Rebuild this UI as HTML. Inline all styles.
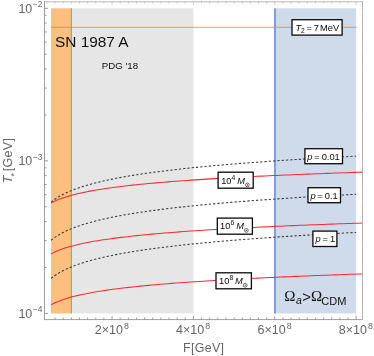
<!DOCTYPE html>
<html><head><meta charset="utf-8"><title>plot</title>
<style>html,body{margin:0;padding:0;background:#fff;}body{width:374px;height:356px;overflow:hidden;font-family:"Liberation Sans",sans-serif;}</style>
</head><body>
<svg width="374" height="356" viewBox="0 0 374 356" style="display:block;will-change:transform;font-family:'Liberation Sans',sans-serif">
<rect x="0" y="0" width="374" height="356" fill="#fff"/>
<rect x="51.04" y="8.3" width="20.34" height="305.10" fill="#ffbf7f"/>
<rect x="71.38" y="8.3" width="122.04" height="305.10" fill="#e6e6e6"/>
<rect x="274.78" y="8.3" width="81.36" height="305.10" fill="#cfdaea"/>
<line x1="71.38" x2="71.38" y1="8.3" y2="313.4" stroke="#b89f3a" stroke-width="1.1"/>
<line x1="274.98" x2="274.98" y1="8.3" y2="313.4" stroke="#6585c9" stroke-width="1.5"/>
<line x1="51.04" x2="356.54" y1="27.3" y2="27.3" stroke="#ff8000" stroke-width="0.9" stroke-opacity="0.88"/>
<path d="M51.04,202.95 L54.93,201.02 L58.83,199.37 L62.72,197.94 L66.61,196.68 L70.51,195.54 L74.40,194.51 L78.29,193.57 L82.19,192.70 L86.08,191.89 L89.97,191.14 L93.87,190.44 L97.76,189.78 L101.65,189.16 L105.55,188.57 L109.44,188.01 L113.33,187.48 L117.23,186.97 L121.12,186.48 L125.01,186.02 L128.91,185.57 L132.80,185.14 L136.69,184.73 L140.58,184.33 L144.48,183.94 L148.37,183.57 L152.26,183.21 L156.16,182.86 L160.05,182.53 L163.94,182.20 L167.84,181.88 L171.73,181.57 L175.62,181.27 L179.52,180.98 L183.41,180.69 L187.30,180.42 L191.20,180.14 L195.09,179.88 L198.98,179.62 L202.88,179.37 L206.77,179.12 L210.66,178.88 L214.56,178.64 L218.45,178.41 L222.34,178.19 L226.24,177.96 L230.13,177.75 L234.02,177.53 L237.92,177.32 L241.81,177.12 L245.70,176.92 L249.60,176.72 L253.49,176.52 L257.38,176.33 L261.28,176.14 L265.17,175.96 L269.06,175.78 L272.96,175.60 L276.85,175.42 L280.74,175.25 L284.63,175.08 L288.53,174.91 L292.42,174.74 L296.31,174.58 L300.21,174.42 L304.10,174.26 L307.99,174.11 L311.89,173.95 L315.78,173.80 L319.67,173.65 L323.57,173.50 L327.46,173.36 L331.35,173.21 L335.25,173.07 L339.14,172.93 L343.03,172.79 L346.93,172.66 L350.82,172.52 L354.71,172.39 L358.61,172.26 L362.50,172.13" fill="none" stroke="#f82c34" stroke-width="1.05"/>
<path d="M51.04,253.85 L54.93,251.92 L58.83,250.27 L62.72,248.84 L66.61,247.58 L70.51,246.44 L74.40,245.41 L78.29,244.47 L82.19,243.60 L86.08,242.79 L89.97,242.04 L93.87,241.34 L97.76,240.68 L101.65,240.06 L105.55,239.47 L109.44,238.91 L113.33,238.38 L117.23,237.87 L121.12,237.38 L125.01,236.92 L128.91,236.47 L132.80,236.04 L136.69,235.63 L140.58,235.23 L144.48,234.84 L148.37,234.47 L152.26,234.11 L156.16,233.76 L160.05,233.43 L163.94,233.10 L167.84,232.78 L171.73,232.47 L175.62,232.17 L179.52,231.88 L183.41,231.59 L187.30,231.32 L191.20,231.04 L195.09,230.78 L198.98,230.52 L202.88,230.27 L206.77,230.02 L210.66,229.78 L214.56,229.54 L218.45,229.31 L222.34,229.09 L226.24,228.86 L230.13,228.65 L234.02,228.43 L237.92,228.22 L241.81,228.02 L245.70,227.82 L249.60,227.62 L253.49,227.42 L257.38,227.23 L261.28,227.04 L265.17,226.86 L269.06,226.68 L272.96,226.50 L276.85,226.32 L280.74,226.15 L284.63,225.98 L288.53,225.81 L292.42,225.64 L296.31,225.48 L300.21,225.32 L304.10,225.16 L307.99,225.01 L311.89,224.85 L315.78,224.70 L319.67,224.55 L323.57,224.40 L327.46,224.26 L331.35,224.11 L335.25,223.97 L339.14,223.83 L343.03,223.69 L346.93,223.56 L350.82,223.42 L354.71,223.29 L358.61,223.16 L362.50,223.03" fill="none" stroke="#f82c34" stroke-width="1.05"/>
<path d="M51.04,304.75 L54.93,302.82 L58.83,301.17 L62.72,299.74 L66.61,298.48 L70.51,297.34 L74.40,296.31 L78.29,295.37 L82.19,294.50 L86.08,293.69 L89.97,292.94 L93.87,292.24 L97.76,291.58 L101.65,290.96 L105.55,290.37 L109.44,289.81 L113.33,289.28 L117.23,288.77 L121.12,288.28 L125.01,287.82 L128.91,287.37 L132.80,286.94 L136.69,286.53 L140.58,286.13 L144.48,285.74 L148.37,285.37 L152.26,285.01 L156.16,284.66 L160.05,284.33 L163.94,284.00 L167.84,283.68 L171.73,283.37 L175.62,283.07 L179.52,282.78 L183.41,282.49 L187.30,282.22 L191.20,281.94 L195.09,281.68 L198.98,281.42 L202.88,281.17 L206.77,280.92 L210.66,280.68 L214.56,280.44 L218.45,280.21 L222.34,279.99 L226.24,279.76 L230.13,279.55 L234.02,279.33 L237.92,279.12 L241.81,278.92 L245.70,278.72 L249.60,278.52 L253.49,278.32 L257.38,278.13 L261.28,277.94 L265.17,277.76 L269.06,277.58 L272.96,277.40 L276.85,277.22 L280.74,277.05 L284.63,276.88 L288.53,276.71 L292.42,276.54 L296.31,276.38 L300.21,276.22 L304.10,276.06 L307.99,275.91 L311.89,275.75 L315.78,275.60 L319.67,275.45 L323.57,275.30 L327.46,275.16 L331.35,275.01 L335.25,274.87 L339.14,274.73 L343.03,274.59 L346.93,274.46 L350.82,274.32 L354.71,274.19 L358.61,274.06 L362.50,273.93" fill="none" stroke="#f82c34" stroke-width="1.05"/>
<path d="M51.04,202.08 L54.85,199.23 L58.67,196.81 L62.48,194.69 L66.30,192.81 L70.11,191.13 L73.92,189.60 L77.74,188.20 L81.55,186.90 L85.36,185.71 L89.18,184.59 L92.99,183.54 L96.81,182.56 L100.62,181.63 L104.43,180.75 L108.25,179.91 L112.06,179.12 L115.87,178.36 L119.69,177.64 L123.50,176.94 L127.31,176.27 L131.13,175.63 L134.94,175.01 L138.76,174.42 L142.57,173.84 L146.38,173.29 L150.20,172.75 L154.01,172.23 L157.82,171.73 L161.64,171.24 L165.45,170.76 L169.27,170.30 L173.08,169.85 L176.89,169.41 L180.71,168.99 L184.52,168.57 L188.33,168.16 L192.15,167.77 L195.96,167.38 L199.78,167.00 L203.59,166.63 L207.40,166.27 L211.22,165.92 L215.03,165.57 L218.84,165.23 L222.66,164.90 L226.47,164.58 L230.29,164.26 L234.10,163.94 L237.91,163.64 L241.73,163.33 L245.54,163.04 L249.35,162.75 L253.17,162.46 L256.98,162.18 L260.80,161.90 L264.61,161.63 L268.42,161.36 L272.24,161.10 L276.05,160.84 L279.86,160.58 L283.68,160.33 L287.49,160.08 L291.31,159.84 L295.12,159.60 L298.93,159.36 L302.75,159.13 L306.56,158.90 L310.38,158.67 L314.19,158.44 L318.00,158.22 L321.82,158.00 L325.63,157.79 L329.44,157.58 L333.26,157.37 L337.07,157.16 L340.88,156.95 L344.70,156.75 L348.51,156.55 L352.33,156.35 L356.14,156.16" fill="none" stroke="#3a3a3a" stroke-width="1.05" stroke-dasharray="2.3 2.0"/>
<path d="M51.04,240.22 L54.85,237.37 L58.67,234.94 L62.48,232.83 L66.30,230.95 L70.11,229.26 L73.92,227.73 L77.74,226.33 L81.55,225.04 L85.36,223.84 L89.18,222.73 L92.99,221.68 L96.81,220.70 L100.62,219.77 L104.43,218.89 L108.25,218.05 L112.06,217.26 L115.87,216.50 L119.69,215.77 L123.50,215.08 L127.31,214.41 L131.13,213.77 L134.94,213.15 L138.76,212.56 L142.57,211.98 L146.38,211.43 L150.20,210.89 L154.01,210.37 L157.82,209.87 L161.64,209.38 L165.45,208.90 L169.27,208.44 L173.08,207.99 L176.89,207.55 L180.71,207.12 L184.52,206.71 L188.33,206.30 L192.15,205.91 L195.96,205.52 L199.78,205.14 L203.59,204.77 L207.40,204.41 L211.22,204.06 L215.03,203.71 L218.84,203.37 L222.66,203.04 L226.47,202.71 L230.29,202.39 L234.10,202.08 L237.91,201.77 L241.73,201.47 L245.54,201.17 L249.35,200.88 L253.17,200.60 L256.98,200.31 L260.80,200.04 L264.61,199.77 L268.42,199.50 L272.24,199.23 L276.05,198.97 L279.86,198.72 L283.68,198.47 L287.49,198.22 L291.31,197.98 L295.12,197.74 L298.93,197.50 L302.75,197.26 L306.56,197.03 L310.38,196.81 L314.19,196.58 L318.00,196.36 L321.82,196.14 L325.63,195.93 L329.44,195.71 L333.26,195.50 L337.07,195.30 L340.88,195.09 L344.70,194.89 L348.51,194.69 L352.33,194.49 L356.14,194.30" fill="none" stroke="#3a3a3a" stroke-width="1.05" stroke-dasharray="2.3 2.0"/>
<path d="M51.04,278.36 L54.85,275.51 L58.67,273.08 L62.48,270.96 L66.30,269.09 L70.11,267.40 L73.92,265.87 L77.74,264.47 L81.55,263.18 L85.36,261.98 L89.18,260.86 L92.99,259.82 L96.81,258.83 L100.62,257.90 L104.43,257.02 L108.25,256.19 L112.06,255.39 L115.87,254.64 L119.69,253.91 L123.50,253.22 L127.31,252.55 L131.13,251.91 L134.94,251.29 L138.76,250.69 L142.57,250.12 L146.38,249.56 L150.20,249.03 L154.01,248.51 L157.82,248.00 L161.64,247.51 L165.45,247.04 L169.27,246.58 L173.08,246.13 L176.89,245.69 L180.71,245.26 L184.52,244.85 L188.33,244.44 L192.15,244.04 L195.96,243.66 L199.78,243.28 L203.59,242.91 L207.40,242.55 L211.22,242.19 L215.03,241.85 L218.84,241.51 L222.66,241.18 L226.47,240.85 L230.29,240.53 L234.10,240.22 L237.91,239.91 L241.73,239.61 L245.54,239.31 L249.35,239.02 L253.17,238.73 L256.98,238.45 L260.80,238.18 L264.61,237.90 L268.42,237.64 L272.24,237.37 L276.05,237.11 L279.86,236.86 L283.68,236.61 L287.49,236.36 L291.31,236.11 L295.12,235.87 L298.93,235.64 L302.75,235.40 L306.56,235.17 L310.38,234.94 L314.19,234.72 L318.00,234.50 L321.82,234.28 L325.63,234.06 L329.44,233.85 L333.26,233.64 L337.07,233.43 L340.88,233.23 L344.70,233.03 L348.51,232.83 L352.33,232.63 L356.14,232.43" fill="none" stroke="#3a3a3a" stroke-width="1.05" stroke-dasharray="2.3 2.0"/>
<g stroke="#7a7a7a" stroke-width="0.75" fill="none">
<line x1="44.5" x2="44.5" y1="1.3" y2="319.90000000000003" stroke="#7c7c7c"/>
<line x1="44.5" x2="362.5" y1="319.6" y2="319.6" stroke="#808080"/>
<line x1="362.5" x2="362.5" y1="1.3" y2="319.90000000000003" stroke="#9a9a9a"/>
<line x1="44.5" x2="362.5" y1="1.8" y2="1.8" stroke="#a0a0a0"/>
<line x1="44.5" x2="48.0" y1="8.30" y2="8.30"/>
<line x1="362.5" x2="359.0" y1="8.30" y2="8.30" stroke-opacity="0.08"/>
<line x1="44.5" x2="48.0" y1="160.85" y2="160.85"/>
<line x1="362.5" x2="359.0" y1="160.85" y2="160.85" stroke-opacity="0.08"/>
<line x1="44.5" x2="46.5" y1="114.93" y2="114.93"/>
<line x1="362.5" x2="360.5" y1="114.93" y2="114.93" stroke-opacity="0.08"/>
<line x1="44.5" x2="46.5" y1="88.07" y2="88.07"/>
<line x1="362.5" x2="360.5" y1="88.07" y2="88.07" stroke-opacity="0.08"/>
<line x1="44.5" x2="46.5" y1="69.01" y2="69.01"/>
<line x1="362.5" x2="360.5" y1="69.01" y2="69.01" stroke-opacity="0.08"/>
<line x1="44.5" x2="46.5" y1="54.22" y2="54.22"/>
<line x1="362.5" x2="360.5" y1="54.22" y2="54.22" stroke-opacity="0.08"/>
<line x1="44.5" x2="46.5" y1="42.14" y2="42.14"/>
<line x1="362.5" x2="360.5" y1="42.14" y2="42.14" stroke-opacity="0.08"/>
<line x1="44.5" x2="46.5" y1="31.93" y2="31.93"/>
<line x1="362.5" x2="360.5" y1="31.93" y2="31.93" stroke-opacity="0.08"/>
<line x1="44.5" x2="46.5" y1="23.08" y2="23.08"/>
<line x1="362.5" x2="360.5" y1="23.08" y2="23.08" stroke-opacity="0.08"/>
<line x1="44.5" x2="46.5" y1="15.28" y2="15.28"/>
<line x1="362.5" x2="360.5" y1="15.28" y2="15.28" stroke-opacity="0.08"/>
<line x1="44.5" x2="48.0" y1="313.40" y2="313.40"/>
<line x1="362.5" x2="359.0" y1="313.40" y2="313.40" stroke-opacity="0.08"/>
<line x1="44.5" x2="46.5" y1="267.48" y2="267.48"/>
<line x1="362.5" x2="360.5" y1="267.48" y2="267.48" stroke-opacity="0.08"/>
<line x1="44.5" x2="46.5" y1="240.62" y2="240.62"/>
<line x1="362.5" x2="360.5" y1="240.62" y2="240.62" stroke-opacity="0.08"/>
<line x1="44.5" x2="46.5" y1="221.56" y2="221.56"/>
<line x1="362.5" x2="360.5" y1="221.56" y2="221.56" stroke-opacity="0.08"/>
<line x1="44.5" x2="46.5" y1="206.77" y2="206.77"/>
<line x1="362.5" x2="360.5" y1="206.77" y2="206.77" stroke-opacity="0.08"/>
<line x1="44.5" x2="46.5" y1="194.69" y2="194.69"/>
<line x1="362.5" x2="360.5" y1="194.69" y2="194.69" stroke-opacity="0.08"/>
<line x1="44.5" x2="46.5" y1="184.48" y2="184.48"/>
<line x1="362.5" x2="360.5" y1="184.48" y2="184.48" stroke-opacity="0.08"/>
<line x1="44.5" x2="46.5" y1="175.63" y2="175.63"/>
<line x1="362.5" x2="360.5" y1="175.63" y2="175.63" stroke-opacity="0.08"/>
<line x1="44.5" x2="46.5" y1="167.83" y2="167.83"/>
<line x1="362.5" x2="360.5" y1="167.83" y2="167.83" stroke-opacity="0.08"/>
<line x1="46.97" x2="46.97" y1="1.6" y2="3.6" stroke-opacity="0.45"/>
<line x1="55.11" x2="55.11" y1="319.6" y2="317.6"/>
<line x1="55.11" x2="55.11" y1="1.6" y2="3.6" stroke-opacity="0.45"/>
<line x1="63.24" x2="63.24" y1="319.6" y2="317.6"/>
<line x1="63.24" x2="63.24" y1="1.6" y2="3.6" stroke-opacity="0.45"/>
<line x1="71.38" x2="71.38" y1="319.6" y2="317.6"/>
<line x1="71.38" x2="71.38" y1="1.6" y2="3.6" stroke-opacity="0.45"/>
<line x1="79.52" x2="79.52" y1="319.6" y2="317.6"/>
<line x1="79.52" x2="79.52" y1="1.6" y2="3.6" stroke-opacity="0.45"/>
<line x1="87.65" x2="87.65" y1="319.6" y2="317.6"/>
<line x1="87.65" x2="87.65" y1="1.6" y2="3.6" stroke-opacity="0.45"/>
<line x1="95.79" x2="95.79" y1="319.6" y2="317.6"/>
<line x1="95.79" x2="95.79" y1="1.6" y2="3.6" stroke-opacity="0.45"/>
<line x1="103.92" x2="103.92" y1="319.6" y2="317.6"/>
<line x1="103.92" x2="103.92" y1="1.6" y2="3.6" stroke-opacity="0.45"/>
<line x1="112.06" x2="112.06" y1="319.6" y2="316.1"/>
<line x1="112.06" x2="112.06" y1="1.6" y2="5.1" stroke-opacity="0.45"/>
<line x1="120.20" x2="120.20" y1="319.6" y2="317.6"/>
<line x1="120.20" x2="120.20" y1="1.6" y2="3.6" stroke-opacity="0.45"/>
<line x1="128.33" x2="128.33" y1="319.6" y2="317.6"/>
<line x1="128.33" x2="128.33" y1="1.6" y2="3.6" stroke-opacity="0.45"/>
<line x1="136.47" x2="136.47" y1="319.6" y2="317.6"/>
<line x1="136.47" x2="136.47" y1="1.6" y2="3.6" stroke-opacity="0.45"/>
<line x1="144.60" x2="144.60" y1="319.6" y2="317.6"/>
<line x1="144.60" x2="144.60" y1="1.6" y2="3.6" stroke-opacity="0.45"/>
<line x1="152.74" x2="152.74" y1="319.6" y2="317.6"/>
<line x1="152.74" x2="152.74" y1="1.6" y2="3.6" stroke-opacity="0.45"/>
<line x1="160.88" x2="160.88" y1="319.6" y2="317.6"/>
<line x1="160.88" x2="160.88" y1="1.6" y2="3.6" stroke-opacity="0.45"/>
<line x1="169.01" x2="169.01" y1="319.6" y2="317.6"/>
<line x1="169.01" x2="169.01" y1="1.6" y2="3.6" stroke-opacity="0.45"/>
<line x1="177.15" x2="177.15" y1="319.6" y2="317.6"/>
<line x1="177.15" x2="177.15" y1="1.6" y2="3.6" stroke-opacity="0.45"/>
<line x1="185.28" x2="185.28" y1="319.6" y2="317.6"/>
<line x1="185.28" x2="185.28" y1="1.6" y2="3.6" stroke-opacity="0.45"/>
<line x1="193.42" x2="193.42" y1="319.6" y2="316.1"/>
<line x1="193.42" x2="193.42" y1="1.6" y2="5.1" stroke-opacity="0.45"/>
<line x1="201.56" x2="201.56" y1="319.6" y2="317.6"/>
<line x1="201.56" x2="201.56" y1="1.6" y2="3.6" stroke-opacity="0.45"/>
<line x1="209.69" x2="209.69" y1="319.6" y2="317.6"/>
<line x1="209.69" x2="209.69" y1="1.6" y2="3.6" stroke-opacity="0.45"/>
<line x1="217.83" x2="217.83" y1="319.6" y2="317.6"/>
<line x1="217.83" x2="217.83" y1="1.6" y2="3.6" stroke-opacity="0.45"/>
<line x1="225.96" x2="225.96" y1="319.6" y2="317.6"/>
<line x1="225.96" x2="225.96" y1="1.6" y2="3.6" stroke-opacity="0.45"/>
<line x1="234.10" x2="234.10" y1="319.6" y2="317.6"/>
<line x1="234.10" x2="234.10" y1="1.6" y2="3.6" stroke-opacity="0.45"/>
<line x1="242.24" x2="242.24" y1="319.6" y2="317.6"/>
<line x1="242.24" x2="242.24" y1="1.6" y2="3.6" stroke-opacity="0.45"/>
<line x1="250.37" x2="250.37" y1="319.6" y2="317.6"/>
<line x1="250.37" x2="250.37" y1="1.6" y2="3.6" stroke-opacity="0.45"/>
<line x1="258.51" x2="258.51" y1="319.6" y2="317.6"/>
<line x1="258.51" x2="258.51" y1="1.6" y2="3.6" stroke-opacity="0.45"/>
<line x1="266.64" x2="266.64" y1="319.6" y2="317.6"/>
<line x1="266.64" x2="266.64" y1="1.6" y2="3.6" stroke-opacity="0.45"/>
<line x1="274.78" x2="274.78" y1="319.6" y2="316.1"/>
<line x1="274.78" x2="274.78" y1="1.6" y2="5.1" stroke-opacity="0.45"/>
<line x1="282.92" x2="282.92" y1="319.6" y2="317.6"/>
<line x1="282.92" x2="282.92" y1="1.6" y2="3.6" stroke-opacity="0.45"/>
<line x1="291.05" x2="291.05" y1="319.6" y2="317.6"/>
<line x1="291.05" x2="291.05" y1="1.6" y2="3.6" stroke-opacity="0.45"/>
<line x1="299.19" x2="299.19" y1="319.6" y2="317.6"/>
<line x1="299.19" x2="299.19" y1="1.6" y2="3.6" stroke-opacity="0.45"/>
<line x1="307.32" x2="307.32" y1="319.6" y2="317.6"/>
<line x1="307.32" x2="307.32" y1="1.6" y2="3.6" stroke-opacity="0.45"/>
<line x1="315.46" x2="315.46" y1="319.6" y2="317.6"/>
<line x1="315.46" x2="315.46" y1="1.6" y2="3.6" stroke-opacity="0.45"/>
<line x1="323.60" x2="323.60" y1="319.6" y2="317.6"/>
<line x1="323.60" x2="323.60" y1="1.6" y2="3.6" stroke-opacity="0.45"/>
<line x1="331.73" x2="331.73" y1="319.6" y2="317.6"/>
<line x1="331.73" x2="331.73" y1="1.6" y2="3.6" stroke-opacity="0.45"/>
<line x1="339.87" x2="339.87" y1="319.6" y2="317.6"/>
<line x1="339.87" x2="339.87" y1="1.6" y2="3.6" stroke-opacity="0.45"/>
<line x1="348.00" x2="348.00" y1="319.6" y2="317.6"/>
<line x1="348.00" x2="348.00" y1="1.6" y2="3.6" stroke-opacity="0.45"/>
<line x1="356.14" x2="356.14" y1="319.6" y2="316.1"/>
<line x1="356.14" x2="356.14" y1="1.6" y2="5.1" stroke-opacity="0.45"/>
</g>
<text x="32.3" y="12.80" font-size="12.5" fill="#666" text-anchor="end">10</text>
<text x="32.9" y="7.30" font-size="8.5" fill="#666">−2</text>
<text x="32.3" y="165.35" font-size="12.5" fill="#666" text-anchor="end">10</text>
<text x="32.9" y="159.85" font-size="8.5" fill="#666">−3</text>
<text x="32.3" y="317.90" font-size="12.5" fill="#666" text-anchor="end">10</text>
<text x="32.9" y="312.40" font-size="8.5" fill="#666">−4</text>
<text x="94.76" y="333.9" font-size="12.5" fill="#666">2×10</text>
<text x="123.96" y="329.2" font-size="8.8" fill="#666">8</text>
<text x="176.12" y="333.9" font-size="12.5" fill="#666">4×10</text>
<text x="205.32" y="329.2" font-size="8.8" fill="#666">8</text>
<text x="257.48" y="333.9" font-size="12.5" fill="#666">6×10</text>
<text x="286.68" y="329.2" font-size="8.8" fill="#666">8</text>
<text x="338.84" y="333.9" font-size="12.5" fill="#666">8×10</text>
<text x="368.04" y="329.2" font-size="8.8" fill="#666">8</text>
<text x="183.0" y="352" font-size="12.5" letter-spacing="0.3" fill="#666">F[GeV]</text>
<g transform="translate(12,183.2) rotate(-90)" fill="#666"><text x="0" y="0" font-size="12.5" font-style="italic">T</text><text x="6.6" y="4.6" font-size="8.5">*</text><text x="11.9" y="0" font-size="12.5" letter-spacing="0.3">[GeV]</text></g>
<text x="55" y="47.4" font-size="15.4" fill="#111">SN 1987 A</text>
<text x="101.8" y="68.8" font-size="9.7" fill="#111">PDG '18</text>
<g fill="#111"><text x="284.3" y="301.4" font-size="15" font-family="'Liberation Serif',serif">Ω</text><text x="296" y="304" font-size="10.5" font-style="italic">a</text><text x="302.2" y="301.6" font-size="15">&gt;</text><text x="311" y="301.4" font-size="15" font-family="'Liberation Serif',serif">Ω</text><text x="321.3" y="305" font-size="11">CDM</text></g>
<rect x="292.00" y="19.70" width="50.10" height="15.40" fill="#fff" stroke="#0a0a0a" stroke-width="1.3"/>
<g fill="#0a0a0a" font-size="9.3"><text x="295.4" y="30.7" font-style="italic">T</text><text x="301.0" y="33.1" font-size="6.6">2</text><text x="306.5" y="30.7">=</text><text x="313.7" y="30.7">7</text><text x="320.1" y="30.7">MeV</text></g>
<rect x="304.90" y="148.70" width="37.60" height="15.00" fill="#fff" stroke="#0a0a0a" stroke-width="1.3"/>
<g fill="#0a0a0a" font-size="9.3"><text x="307.3" y="160" font-style="italic">p</text><text x="314.3" y="160">=</text><text x="321.7" y="160">0.01</text></g>
<rect x="308.00" y="187.70" width="32.50" height="15.00" fill="#fff" stroke="#0a0a0a" stroke-width="1.3"/>
<g fill="#0a0a0a" font-size="9.3"><text x="310.4" y="199" font-style="italic">p</text><text x="317.3" y="199">=</text><text x="324.8" y="199">0.1</text></g>
<rect x="312.90" y="231.10" width="24.00" height="15.40" fill="#fff" stroke="#0a0a0a" stroke-width="1.3"/>
<g fill="#0a0a0a" font-size="9.3"><text x="315.6" y="242.4" font-style="italic">p</text><text x="322.6" y="242.4">=</text><text x="330" y="242.4">1</text></g>
<rect x="218.10" y="172.20" width="35.10" height="16.00" fill="#fff" stroke="#0a0a0a" stroke-width="1.3"/>
<g fill="#0a0a0a" font-size="9.3"><text x="221.2" y="183.8">10</text><text x="231.60" y="179.90" font-size="6.8">4</text><text x="237.30" y="183.8" font-style="italic">M</text><circle cx="247.40" cy="184.90" r="1.9" fill="none" stroke="#0a0a0a" stroke-width="0.6"/><circle cx="247.40" cy="184.90" r="0.55" fill="#0a0a0a"/></g>
<rect x="217.30" y="218.10" width="35.10" height="16.10" fill="#fff" stroke="#0a0a0a" stroke-width="1.3"/>
<g fill="#0a0a0a" font-size="9.3"><text x="220.1" y="229.3">10</text><text x="230.50" y="225.40" font-size="6.8">6</text><text x="236.20" y="229.3" font-style="italic">M</text><circle cx="246.30" cy="230.40" r="1.9" fill="none" stroke="#0a0a0a" stroke-width="0.6"/><circle cx="246.30" cy="230.40" r="0.55" fill="#0a0a0a"/></g>
<rect x="216.00" y="272.80" width="35.40" height="16.00" fill="#fff" stroke="#0a0a0a" stroke-width="1.3"/>
<g fill="#0a0a0a" font-size="9.3"><text x="219.0" y="284.2">10</text><text x="229.40" y="280.30" font-size="6.8">8</text><text x="235.10" y="284.2" font-style="italic">M</text><circle cx="245.20" cy="285.30" r="1.9" fill="none" stroke="#0a0a0a" stroke-width="0.6"/><circle cx="245.20" cy="285.30" r="0.55" fill="#0a0a0a"/></g>
</svg>
</body></html>
